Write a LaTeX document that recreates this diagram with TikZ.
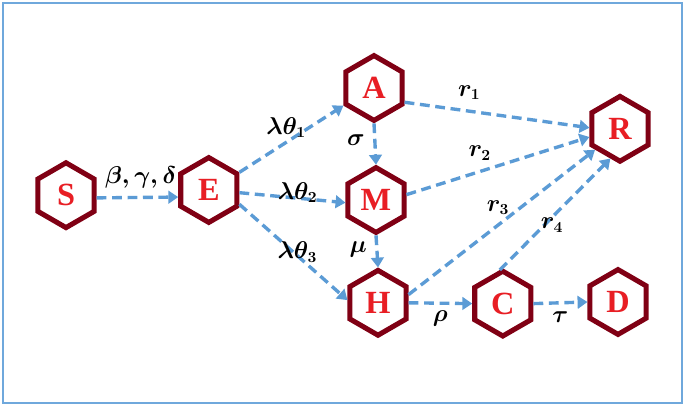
\documentclass[tikz,border=0pt]{standalone}
\usepackage{amsmath,amssymb}
\usepackage{fontspec}
\setmainfont{Liberation Serif}
\usepackage{tikz}
\usetikzlibrary{shapes.geometric,arrows.meta,positioning}

\definecolor{hexred}{RGB}{128,0,20}
\definecolor{letred}{RGB}{232,30,36}
\definecolor{flowblue}{RGB}{91,155,213}
\definecolor{frameblue}{RGB}{111,168,220}

\tikzset{
    comp/.style={regular polygon, regular polygon sides=6, shape border rotate=30,
        minimum size=1.62cm, inner sep=0pt, draw=hexred, line width=3.6pt, fill=white,
        text=letred, font=\bfseries\fontsize{23}{25}\selectfont},
    flow/.style={draw=flowblue, line width=2.4pt, dash pattern=on 7pt off 4pt,
        -{Triangle[length=7pt,width=9pt]}},
    rate/.style={font=\boldmath\fontsize{16}{18}\selectfont, text=black, inner sep=2pt}
}

\begin{document}
\begin{tikzpicture}
    \useasboundingbox (0,0) rectangle (17.125,10.15);
    \draw[frameblue, line width=1.4pt] (0.07,0.075) rectangle (17.06,10.08);

    % compartments
    \foreach \nm/\x/\y in {S/1.65/5.27, E/5.22/5.4, A/9.35/7.95, M/9.4/5.15, H/9.45/2.58,
                          C/12.57/2.56, D/15.45/2.6, R/15.5/6.93} {
        \node[comp] (\nm) at (\x,\y) {\nm};
    }

    % transitions
    \draw[flow] (S.-5) -- node[rate, above=3pt, pos=0.54] {$\beta,\gamma,\delta$} (E.193);
    \draw[flow] (E.30) -- node[rate, above, pos=0.45] {$\lambda\theta_1$} (A.210);
    \draw[flow] (E.-5) -- node[rate, pos=0.55, yshift=0.14cm] {$\lambda\theta_2$} (M.185);
    \draw[flow] (E.-25) -- node[rate, pos=0.5, xshift=0.1cm] {$\lambda\theta_3$} (H.175);
    \draw[flow] (A.270) -- node[rate, left=4pt, pos=0.4] {$\sigma$} (M.90);
    \draw[flow] (M.270) -- node[rate, left=4pt, pos=0.45] {$\mu$} (H.90);
    \draw[flow] (A.-25) -- node[rate, above=5pt, pos=0.35] {$r_1$} (R.178);
    \draw[flow] (M.10) -- node[rate, above=5pt, pos=0.4] {$r_2$} (R.195);
    \draw[flow] (H.15) -- node[rate, above=4pt, pos=0.48] {$r_3$} (R.220);
    \draw[flow] (C.95) -- node[rate, pos=0.4, xshift=0.2cm] {$r_4$} (R.252);
    \draw[flow] (H.0) -- node[rate, below=2pt] {$\rho$} (C.180);
    \draw[flow] (C.0) -- node[rate, below=3pt] {$\tau$} (D.180);
\end{tikzpicture}
\end{document}
